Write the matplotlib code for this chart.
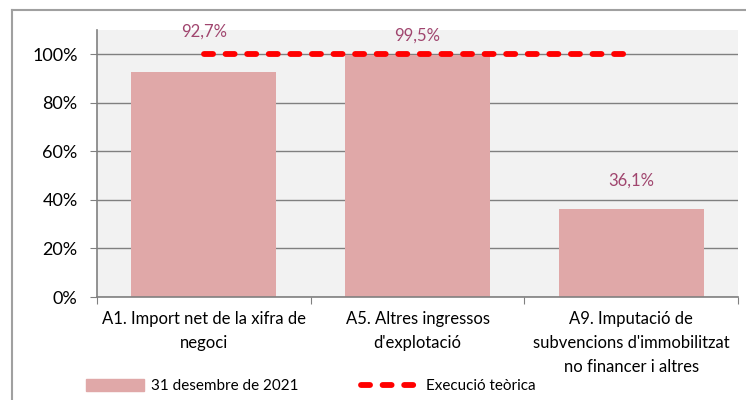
import matplotlib
matplotlib.use("Agg")
import matplotlib.pyplot as plt
from matplotlib.patches import Rectangle
from matplotlib.lines import Line2D
import numpy as np

categories = ["A1. Import net de la xifra de\nnegoci",
              "A5. Altres ingressos\nd'explotació",
              "A9. Imputació de\nsubvencions d'immobilitzat\nno financer i altres"]
values = [0.927, 0.995, 0.361]
value_labels = ["92,7%", "99,5%", "36,1%"]
theoretical = [1.0, 1.0, 1.0]
yticks = [0, 0.2, 0.4, 0.6, 0.8, 1.0]
ytick_labels = ["0%", "20%", "40%", "60%", "80%", "100%"]
series_names = ["31 desembre de 2021", "Execució teòrica"]

plt.rcParams['font.family'] = ['Lato', 'DejaVu Sans']

fig = plt.figure(figsize=(7.46, 4.0), dpi=100)
ax = fig.add_axes([97/746, 1-297/400, (738-97)/746, (297-30)/400])
ax.set_facecolor('#F2F2F2')

x = np.arange(len(categories))
bar_color = '#E0A8A8'
dash = (1.55, 2.15)
ax.bar(x, values, width=0.68, color=bar_color, zorder=2)
ax.plot(x, theoretical, color='#FF0000', lw=4.2, dashes=dash, zorder=3,
        dash_capstyle='round')

label_offsets = [29, 14, 21]
for xi, v, lab, off in zip(x, values, value_labels, label_offsets):
    ax.annotate(lab, (xi, v), xytext=(0, off), textcoords='offset points',
                ha='center', va='center', color='#A0456E', fontsize=12)

ax.set_xlim(-0.5, 2.5)
ax.set_ylim(0, 1.1)
ax.set_yticks(yticks)
ax.set_yticklabels(ytick_labels, fontsize=13)
ax.set_xticks([-0.5, 0.5, 1.5, 2.5], minor=False)
ax.set_xticklabels([])
ax.set_xticks(x, minor=True)
ax.set_xticklabels(categories, minor=True, fontsize=12, linespacing=1.62)
ax.tick_params(axis='x', which='minor', length=0, pad=10)
ax.tick_params(axis='x', which='major', length=5, color='#808080')
ax.tick_params(axis='y', length=5, color='#808080', pad=9)
ax.yaxis.grid(True, color='#808080', lw=1, zorder=1)
ax.set_axisbelow(True)
for s in ['top', 'right']:
    ax.spines[s].set_visible(False)
for s in ['left', 'bottom']:
    ax.spines[s].set_color('#808080')
    ax.spines[s].set_linewidth(1.2)

# outer border
fig.add_artist(Line2D([12/746, 12/746], [0, 1-10/400], transform=fig.transFigure,
                      color='#A0A0A0', lw=1.5))
fig.add_artist(Line2D([12/746, 1], [1-10/400, 1-10/400], transform=fig.transFigure,
                      color='#A0A0A0', lw=1.5))

handles = [Rectangle((0, 0), 1, 1, color=bar_color),
           Line2D([0], [0], color='#FF0000', lw=4.2, dashes=dash, dash_capstyle='round')]
fig.legend(handles, series_names, loc='center', bbox_to_anchor=(311/746, 1-386/400),
           ncol=2, frameon=False, fontsize=11, handlelength=3.8, handleheight=0.9,
           columnspacing=4.1, handletextpad=0.45)

fig.savefig("out.png", dpi=100)
